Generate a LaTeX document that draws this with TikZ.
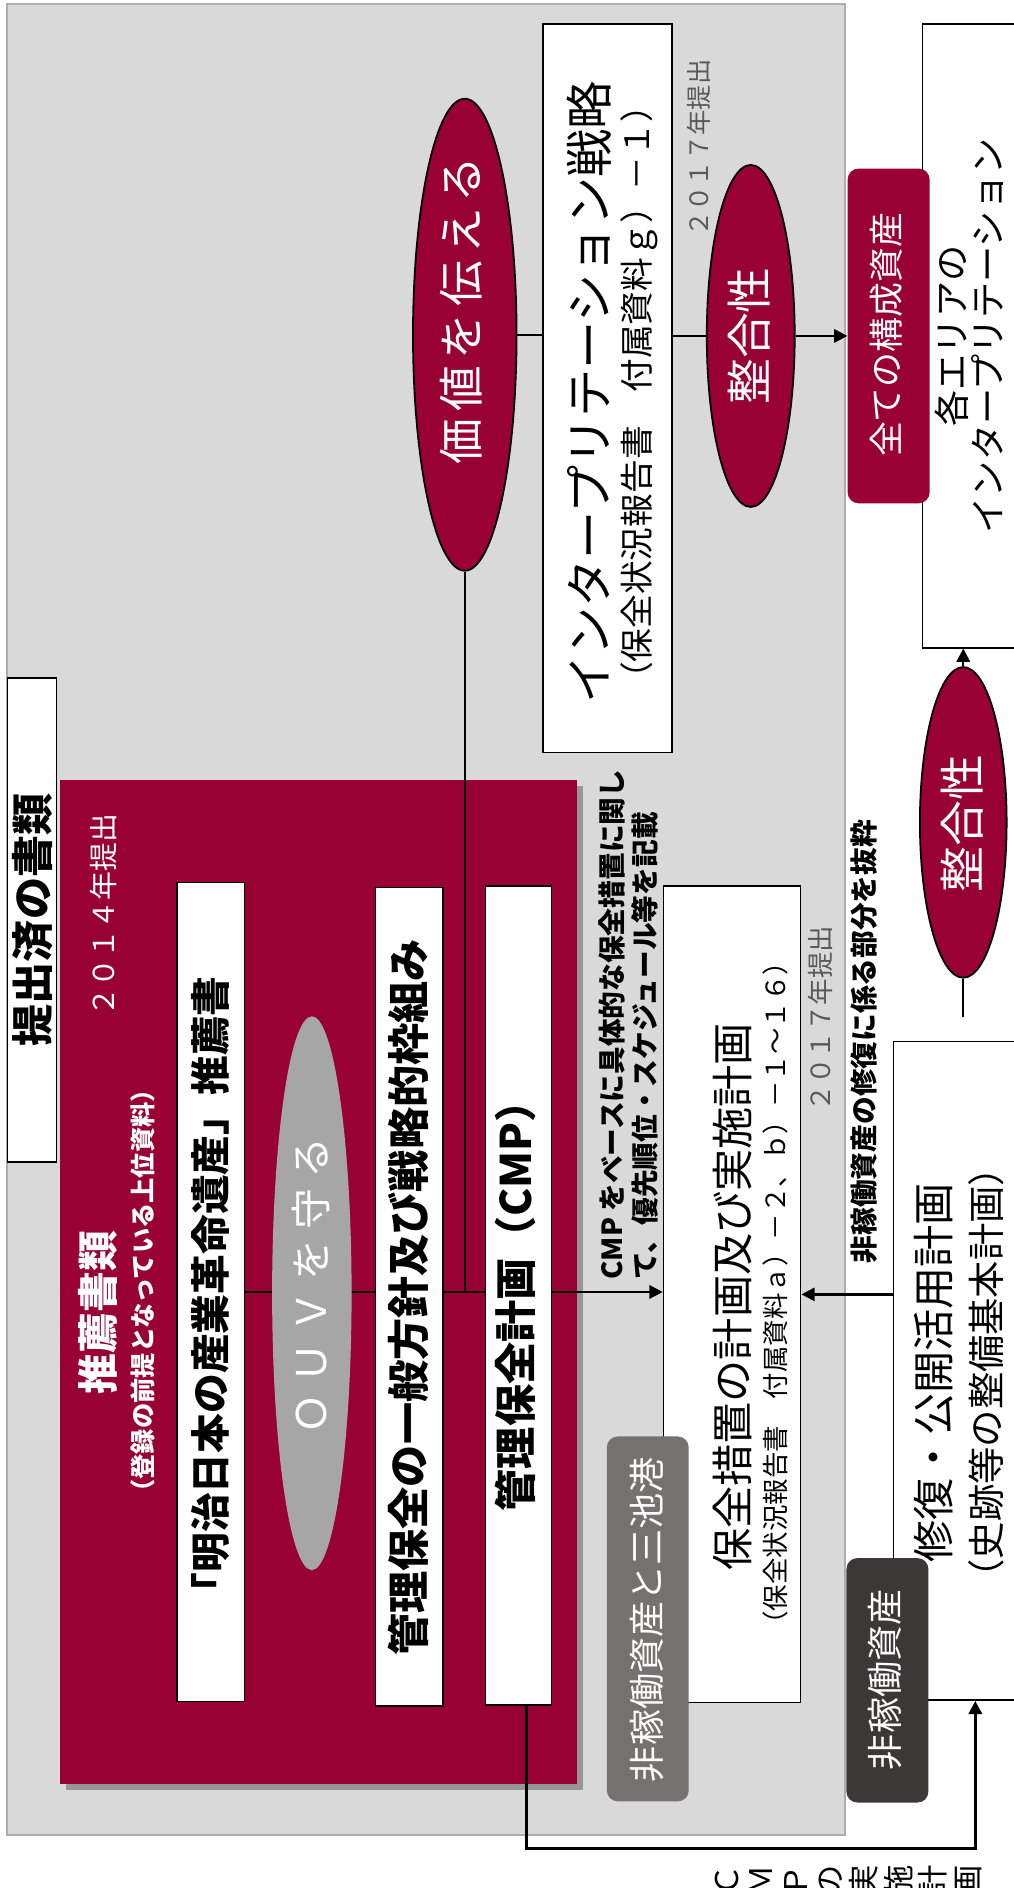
\documentclass[tikz,border=0pt]{standalone}
\usepackage{fontspec}
\setmainfont{Noto Sans CJK JP}
\usetikzlibrary{shapes.geometric,arrows.meta,shadows,calc}
\definecolor{crim}{HTML}{990033}
\definecolor{bggray}{HTML}{D9D9D9}
\definecolor{bgline}{HTML}{ADADAD}
\definecolor{ouvgray}{HTML}{A6A6A6}
\definecolor{midgray}{HTML}{767171}
\definecolor{darkgray2}{HTML}{3B3838}
\definecolor{yeargray}{HTML}{595959}
\pgfdeclarelayer{back}
\pgfdeclarelayer{mid}
\pgfsetlayers{back,mid,main}
\newcommand\fsz[1]{\fontsize{#1}{#1}\selectfont}
\begin{document}
\begin{tikzpicture}[x=1pt,y=-1pt,
 wbox/.style={rectangle,draw=black,fill=white,line width=1.2pt,inner sep=0pt},
 rt/.style={rotate=90,inner sep=0pt,align=center},
 oval/.style={ellipse,draw=black,line width=1.5pt,fill=crim,inner sep=0pt},
 tag/.style={rectangle,rounded corners=9pt,inner sep=0pt},
 conn/.style={line width=2pt,draw=black},
 arr/.style={-{Triangle[length=11pt,width=11pt]}},
 wt/.style={rt,text=white},
 yr/.style={rt,text=yeargray,font=\fsz{22}},
]
\useasboundingbox (0,0) rectangle (842,1568);
\begin{pgfonlayer}{back}
\fill[white] (0,0) rectangle (842,1568);
\node[rectangle,fill=bggray,draw=bgline,line width=1.5pt,minimum width=696pt,minimum height=1521pt,inner sep=0pt] (bg) at (354,763.5) {};
\node[rectangle,fill=crim,minimum width=429pt,minimum height=834pt,inner sep=0pt,
  drop shadow={shadow xshift=5pt,shadow yshift=-5pt,fill=black,opacity=0.3}] (red) at (264.5,1065) {};
\end{pgfonlayer}

% title tag
\node[wbox,minimum width=41pt,minimum height=402pt] (tbox) at (26.5,764) {};
\node[rt,font=\bfseries\fsz{35}] (tboxt) at (27,764) {提出済の書類};

% red panel texts
\node[wt,font=\fsz{24}] (year1) at (86,760) {２０１４年提出};
\node[wt,font=\bfseries\fsz{34}] (rec1) at (81,1090) {推薦書類};
\node[wt,font=\bfseries\fsz{21}] (rec2) at (119,1072) {（登録の前提となっている上位資料）};

\node[wbox,minimum width=56pt,minimum height=680pt] (box1) at (175,1073) {};
\node[rt,font=\bfseries\fsz{33}] (box1t) at (175,1075) {「明治日本の産業革命遺産」推薦書};

\node[ellipse,fill=ouvgray,inner sep=0pt,minimum width=66pt,minimum height=460pt] (ouv) at (259,1074) {};
\node[wt,font=\fsz{34}\addfontfeature{LetterSpace=25}] (ouvt) at (258,1068) {ＯＵＶを守る};

\node[wbox,minimum width=56pt,minimum height=680pt] (box2) at (340,1077) {};
\node[rt,font=\bfseries\fsz{35}] (box2t) at (339,1077.5) {管理保全の一般方針及び戦略的枠組み};

\node[wbox,minimum width=55pt,minimum height=680pt] (box3) at (430.5,1076) {};
\node[rt,font=\bfseries\fsz{35}] (box3t) at (428,1076) {管理保全計画（CMP）};

% value ellipse
\node[oval,minimum width=86pt,minimum height=392pt] (value) at (386,278) {};
\node[wt,font=\fsz{38}\addfontfeature{LetterSpace=15}] (valuet) at (383,258) {価値を伝える};

% interpretation strategy
\node[wbox,minimum width=107pt,minimum height=605pt] (interp) at (504.5,322.5) {};
\node[rt,font=\fsz{40}] (interpt) at (489,326) {インタープリテーション戦略};
\node[rt,font=\fsz{28}] (interps) at (531,326) {（保全状況報告書　付属資料ｇ）－１）};
\node[yr,font=\fsz{21}] (year2) at (580,123) {２０１７年提出};

\node[oval,minimum width=73pt,minimum height=284pt] (harm1) at (623.5,279) {};
\node[wt,font=\fsz{38}] (harm1t) at (622,279) {整合性};

% each area box
\node[wbox,minimum width=104pt,minimum height=518pt] (area) at (818,279) {};
\node[rt,font=\fsz{30}] (areat) at (805,279) {各エリアの\\インタープリテーション};
\node[tag,fill=crim,minimum width=68pt,minimum height=278pt] (all) at (738,279) {};
\node[wt,font=\fsz{29}] (allt) at (736,278) {全ての構成資産};

\node[oval,minimum width=72pt,minimum height=258pt] (harm2) at (800,683) {};
\node[wt,font=\fsz{38}] (harm2t) at (799,684) {整合性};

% repair plan
\node[wbox,minimum width=128pt,minimum height=547pt] (repair) at (806,1138.5) {};
\node[rt,font=\fsz{35}] (repairt) at (775,1140) {修復・公開活用計画};
\node[rt,font=\fsz{31}] (repairs) at (819,1140) {（史跡等の整備基本計画）};
\node[tag,fill=darkgray2,minimum width=68pt,minimum height=203pt] (idle2) at (737,1395.5) {};
\node[wt,font=\fsz{30}] (idle2t) at (735,1395) {非稼働資産};

% conservation measures plan
\node[wbox,minimum width=114pt,minimum height=678pt] (plan) at (608,1075) {};
\node[rt,font=\fsz{35}] (plant) at (608,1077) {保全措置の計画及び実施計画};
\node[rt,font=\fsz{22}] (plans) at (644,1074) {（保全状況報告書　付属資料ａ）－２、ｂ）－１～１６）};
\node[yr] (year3) at (681,846) {２０１７年提出};
\node[tag,fill=midgray,minimum width=68pt,minimum height=303pt] (idle1) at (538,1344.5) {};
\node[wt,font=\fsz{30}] (idle1t) at (537,1345) {非稼働資産と三池港};

% notes
\node[rt,anchor=north west,align=left,font=\bfseries\fontsize{23}{27}\selectfont] (cmpnote) at (497,1063)
  {CMP をベースに具体的な保全措置に関し\\て、優先順位・スケジュール等を記載};
\node[rt,font=\bfseries\fsz{23}] (excerpt) at (718,865) {非稼働資産の修復に係る部分を抜粋};
\node[rt,font=\fontsize{26}{28.6}\selectfont] (cmplabel) at (704.5,1562) {Ｃ\\Ｍ\\Ｐ\\の\\実\\施\\計\\画};

\coordinate (lowstart) at (800,845);
\coordinate (cmpturn) at (810,1535);

\begin{pgfonlayer}{mid}
\draw[conn] (value.south) -- (value.south |- box1.east);
\draw[conn,arr] (box1.east) -- (box1.east -| plan.west);
\draw[conn] (value.east) -- (value.east -| interp.west);
\draw[conn] (interp.east |- harm1.west) -- (harm1.west);
\draw[conn,arr] (harm1.east) -- (harm1.east -| all.west);
\draw[conn] (lowstart) -- (harm2.south);
\draw[conn,arr] (harm2.north) -- (harm2.north |- area.south);
\draw[conn,arr] (plan.east -| repair.west) -- (plan.east);
\draw[conn,line width=2.5pt,arr] ([xshift=6.5pt]box3.south) |- (cmpturn) -- (cmpturn |- repair.south);
\end{pgfonlayer}
\end{tikzpicture}
\end{document}
